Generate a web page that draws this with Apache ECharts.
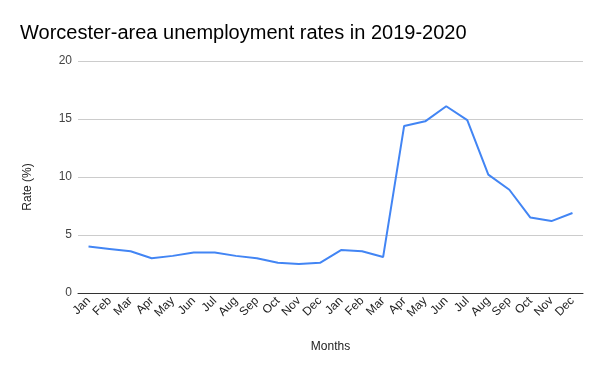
<!DOCTYPE html>
<html><head><meta charset="utf-8">
<script src="https://cdn.jsdelivr.net/npm/echarts@6/dist/echarts.min.js"></script>
<style>html,body{margin:0;padding:0;background:#fff}#c{width:600px;height:371px}</style>
</head><body><div id="c"></div>
<script>
const months = ["Jan","Feb","Mar","Apr","May","Jun","Jul","Aug","Sep","Oct","Nov","Dec","Jan","Feb","Mar","Apr","May","Jun","Jul","Aug","Sep","Oct","Nov","Dec"];
const rates = [4.0,3.8,3.6,3.0,3.2,3.5,3.5,3.2,3.0,2.6,2.5,2.6,3.7,3.6,3.1,14.4,14.8,16.1,14.9,10.2,8.9,6.5,6.2,6.9];
const yTicks = [0,5,10,15,20];
const font = "Liberation Sans, Arial, sans-serif";
const chart = echarts.init(document.getElementById('c'), null, {renderer:'canvas'});
chart.setOption({
  animation:false,
  backgroundColor:'#fff',
  title:{text:'Worcester-area unemployment rates in 2019-2020',left:15,top:18,
    textStyle:{fontFamily:font,fontSize:20,fontWeight:'normal',color:'#000'}},
  grid:{left:78,right:17,top:61,bottom:78},
  xAxis:{type:'category',data:months,boundaryGap:true,
    name:'Months',nameLocation:'middle',nameGap:48,
    nameTextStyle:{fontFamily:font,fontSize:12,color:'#222'},
    axisLine:{lineStyle:{color:'#333',width:1}},axisTick:{show:false},
    axisLabel:{rotate:45,interval:0,fontFamily:font,fontSize:12,color:'#222',margin:6}},
  yAxis:{type:'value',min:yTicks[0],max:yTicks[yTicks.length-1],interval:5,
    name:'Rate (%)',nameLocation:'middle',nameGap:44,nameRotate:90,
    nameTextStyle:{fontFamily:font,fontSize:12,color:'#222',padding:[0,20,0,0]},
    axisLine:{show:false},axisTick:{show:false},
    axisLabel:{fontFamily:font,fontSize:12,color:'#444',margin:6},
    splitLine:{lineStyle:{color:'#ccc',width:1}}},
  series:[{type:'line',data:rates,symbol:'none',smooth:false,
    lineStyle:{color:'#4285f4',width:2},itemStyle:{color:'#4285f4'}}]
});
</script></body></html>
